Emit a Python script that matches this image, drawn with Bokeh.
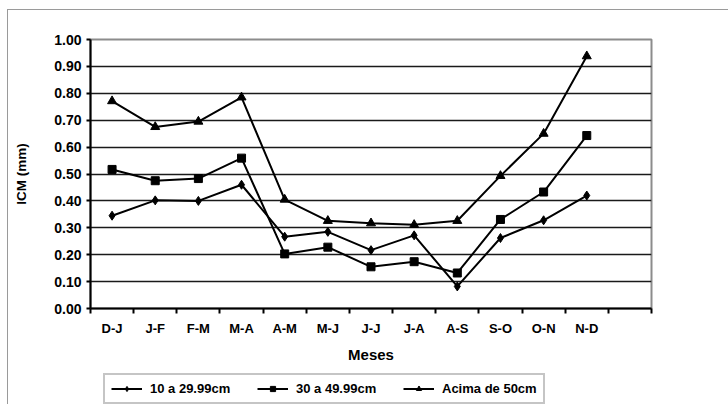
from bokeh.plotting import figure
from bokeh.layouts import column
from bokeh.models import Range1d, FixedTicker, Legend, LegendItem, NumeralTickFormatter
from bokeh.embed import file_html
from bokeh.resources import INLINE

months = ["D-J", "J-F", "F-M", "M-A", "A-M", "M-J", "J-J", "J-A", "A-S", "S-O", "O-N", "N-D"]
series_names = ["10 a 29.99cm", "30 a 49.99cm", "Acima de 50cm"]
s_10_30 = [0.345, 0.402, 0.400, 0.460, 0.267, 0.285, 0.217, 0.272, 0.082, 0.262, 0.328, 0.420]
s_30_50 = [0.517, 0.475, 0.483, 0.559, 0.203, 0.228, 0.155, 0.174, 0.132, 0.331, 0.433, 0.643]
s_50_up = [0.771, 0.675, 0.695, 0.785, 0.405, 0.326, 0.317, 0.311, 0.326, 0.493, 0.650, 0.938]
markers = ["diamond", "square", "triangle"]
marker_sizes = [9, 8, 9]
y_ticks = [0.0, 0.1, 0.2, 0.3, 0.4, 0.5, 0.6, 0.7, 0.8, 0.9, 1.0]

n_slots = len(months) + 1
x = [i + 0.5 for i in range(len(months))]
series = [s_10_30, s_30_50, s_50_up]

FONT = "Liberation Sans"

p = figure(width=720, height=360, output_backend="svg", toolbar_location=None,
           x_range=Range1d(0, n_slots), y_range=Range1d(0, 1.0),
           min_border_left=82, min_border_top=29, min_border_right=77, min_border_bottom=62,
           background_fill_color="white", border_fill_color="white")

p.outline_line_color = "#8c8c8c"
p.outline_line_width = 2

# y axis
p.yaxis.ticker = FixedTicker(ticks=y_ticks)
p.yaxis.formatter = NumeralTickFormatter(format="0.00")
p.yaxis.axis_line_color = "black"
p.yaxis.axis_line_width = 2
p.yaxis.major_tick_line_color = "black"
p.yaxis.major_tick_line_width = 2
p.yaxis.major_tick_out = 4
p.yaxis.major_tick_in = 0
p.yaxis.minor_tick_line_color = None
p.yaxis.major_label_text_font = FONT
p.yaxis.major_label_text_font_style = "bold"
p.yaxis.major_label_text_font_size = "14px"
p.yaxis.major_label_text_color = "black"
p.yaxis.major_label_standoff = 5
p.yaxis.axis_label = "ICM (mm)"
p.yaxis.axis_label_text_font = FONT
p.yaxis.axis_label_text_font_style = "bold"
p.yaxis.axis_label_text_font_size = "13.5px"
p.yaxis.axis_label_text_color = "black"
p.yaxis.axis_label_standoff = 22

# x axis
p.xaxis.ticker = FixedTicker(ticks=x, minor_ticks=list(range(n_slots + 1)))
p.xaxis.major_label_overrides = {xv: m for xv, m in zip(x, months)}
p.xaxis.axis_line_color = "black"
p.xaxis.axis_line_width = 2
p.xaxis.major_tick_line_color = None
p.xaxis.minor_tick_line_color = "black"
p.xaxis.minor_tick_line_width = 2
p.xaxis.minor_tick_out = 5
p.xaxis.minor_tick_in = 0
p.xaxis.major_label_text_font = FONT
p.xaxis.major_label_text_font_style = "bold"
p.xaxis.major_label_text_font_size = "13px"
p.xaxis.major_label_text_color = "black"
p.xaxis.major_label_standoff = 6
p.xaxis.axis_label = "Meses"
p.xaxis.axis_label_text_font = FONT
p.xaxis.axis_label_text_font_style = "bold"
p.xaxis.axis_label_text_font_size = "15px"
p.xaxis.axis_label_text_color = "black"
p.xaxis.axis_label_standoff = 7

p.xgrid.grid_line_color = None
p.ygrid.ticker = FixedTicker(ticks=y_ticks)
p.ygrid.grid_line_color = "#1a1a1a"
p.ygrid.grid_line_width = 1.3

for vals, mk, ms in zip(series, markers, marker_sizes):
    p.line(x, vals, line_color="black", line_width=2)
    p.scatter(x, vals, marker=mk, size=ms, fill_color="black", line_color="black")

# legend strip below the chart (its renderers lie outside its visible range)
lg = figure(width=720, height=34, output_backend="svg", toolbar_location=None,
            x_range=Range1d(-20, -19), y_range=Range1d(-20, -19),
            x_axis_type=None, y_axis_type=None,
            min_border_left=0, min_border_right=0, min_border_top=0, min_border_bottom=0,
            background_fill_color="white", border_fill_color="white")
lg.outline_line_color = None
lg.xgrid.grid_line_color = None
lg.ygrid.grid_line_color = None

items = []
for name, vals, mk, ms in zip(series_names, series, markers, marker_sizes):
    lr = lg.line(x, vals, line_color="black", line_width=2)
    sr = lg.scatter(x, vals, marker=mk, size=ms - 1, fill_color="black", line_color="black")
    items.append(LegendItem(label=name, renderers=[lr, sr]))

legend = Legend(items=items, orientation="horizontal", location=(13, 0),
                border_line_color="#8c8c8c", border_line_width=2,
                background_fill_color="white", background_fill_alpha=1,
                glyph_width=31, glyph_height=13, label_standoff=8, spacing=21,
                padding=6, margin=0, label_width=86,
                label_text_font=FONT, label_text_font_style="bold",
                label_text_font_size="13px", label_text_color="black")
lg.add_layout(legend, "center")

lay = column(p, lg, spacing=0)
lay.styles = {"margin-left": "7px", "margin-top": "9px",
              "border-left": "1px solid #9a9a9a", "border-top": "1px solid #9a9a9a"}

open("out.html", "w").write(file_html(lay, INLINE))
